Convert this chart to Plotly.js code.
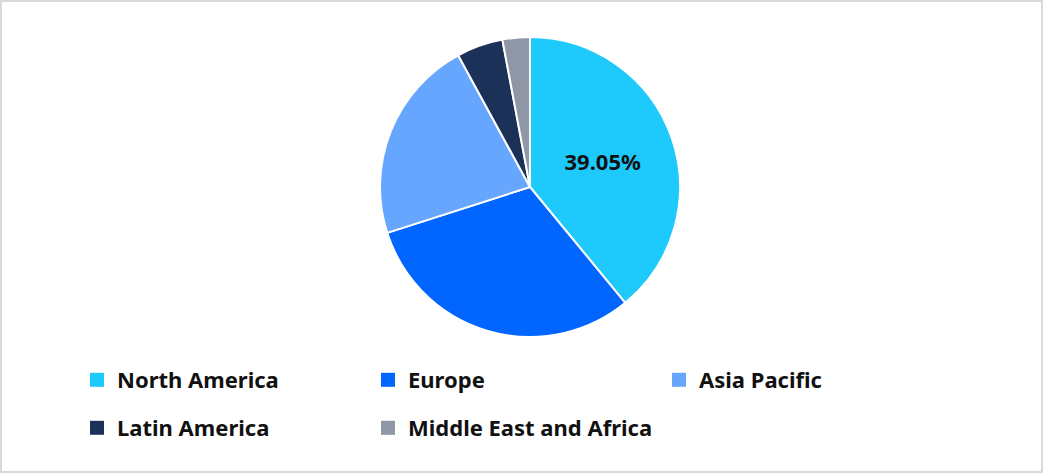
<!DOCTYPE html>
<html><head><meta charset="utf-8">
<script src="https://cdn.plot.ly/plotly-3.0.1.min.js"></script>
<style>
html,body{margin:0;padding:0;background:#fff;}
#frame{position:absolute;left:0;top:0;width:1039px;height:469px;border:2px solid #d9d9d9;pointer-events:none;}
#chart{position:absolute;left:0;top:0;width:1043px;height:473px;}
</style></head>
<body>
<div id="chart"></div>
<div id="frame"></div>
<script>
const categories = ["North America", "Europe", "Asia Pacific", "Latin America", "Middle East and Africa"];
const shares = [39.05, 31.0, 22.0, 5.0, 2.95];
const colors = ["#1ec9fc", "#0066ff", "#66a6ff", "#1c3158", "#8f96a5"];
const shownLabels = [true, false, false, false, false];
const legendRow = ["legend", "legend", "legend", "legend2", "legend2"];

const W = 1043, H = 473;
const FONT = "Noto Sans, Open Sans, sans-serif";
const pie = {
  type: "pie",
  labels: categories,
  values: shares,
  sort: false,
  direction: "clockwise",
  rotation: 0,
  showlegend: false,
  marker: {colors: colors, line: {color: "#ffffff", width: 2}},
  texttemplate: shownLabels.map(s => s ? "%{percent:.2%}" : ""),
  textposition: "inside",
  insidetextorientation: "horizontal",
  textfont: {family: FONT, size: 22, color: "#111111", weight: "bold"},
  hoverinfo: "label+percent",
  domain: {x: [380 / W, 680 / W], y: [(H - 337) / H, (H - 37) / H]}
};
const legendTraces = categories.map((c, i) => ({
  type: "scatter", mode: "markers", x: [null], y: [null],
  name: c, legend: legendRow[i], showlegend: true,
  marker: {symbol: "square", size: 14, color: colors[i]},
  hoverinfo: "skip"
}));
const legendBase = {
  orientation: "h",
  xanchor: "left", yanchor: "middle",
  entrywidth: 246, entrywidthmode: "pixels",
  itemwidth: 30,
  font: {family: FONT, size: 22, color: "#111111", weight: "bold"},
  traceorder: "normal", bgcolor: "rgba(0,0,0,0)"
};
const layout = {
  width: W, height: H,
  margin: {l: 0, r: 0, t: 0, b: 0},
  paper_bgcolor: "#ffffff", plot_bgcolor: "#ffffff",
  xaxis: {visible: false}, yaxis: {visible: false},
  showlegend: true,
  legend: Object.assign({}, legendBase, {x: 77 / W, y: 1 - 380 / H}),
  legend2: Object.assign({}, legendBase, {x: 77 / W, y: 1 - 428 / H})
};
Plotly.newPlot("chart", [pie].concat(legendTraces), layout, {displayModeBar: false, staticPlot: true});
</script>
</body></html>
